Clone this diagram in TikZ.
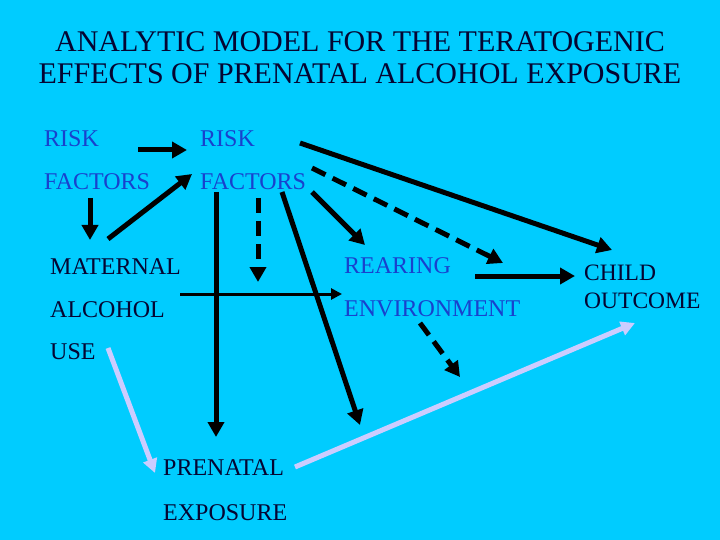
\documentclass[tikz,border=0pt]{standalone}
\usepackage{fontspec}
\setmainfont{Liberation Serif}
\usetikzlibrary{arrows.meta}
\definecolor{slidecyan}{RGB}{0,204,255}
\definecolor{factblue}{RGB}{25,65,205}
\definecolor{inkblack}{RGB}{5,5,50}
\definecolor{lavender1}{RGB}{204,204,255}
\tikzset{
  word/.style={anchor=base west, inner sep=0pt, text=inkblack, font=\fontsize{24}{28}\selectfont},
  blueword/.style={word, text=factblue},
  titleline/.style={anchor=base, inner sep=0pt, text=inkblack, font=\fontsize{30}{32}\selectfont},
  thickarrow/.style={line width=5pt, -{Triangle[length=15pt,width=16pt]}},
  dasharrow/.style={thickarrow, dash pattern=on 15pt off 8pt},
  thinarrow/.style={line width=3pt, -{Triangle[length=11pt,width=11pt]}},
  lightarrow/.style={draw=lavender1, line width=5pt, -{Triangle[length=14pt,width=14pt]}}
}
\begin{document}
\begin{tikzpicture}[x=1pt, y=-1pt]
  % Slide
  \fill[slidecyan] (0,0) rectangle (720,540);
  \node[titleline] (title1) at (360,52) {ANALYTIC MODEL FOR THE TERATOGENIC};
  \node[titleline] (title2) at (360,84) {EFFECTS OF PRENATAL ALCOHOL EXPOSURE};

  % Words
  \node[blueword] (risk1) at (44,147) {RISK};
  \node[blueword] (fac1) at (44,190) {FACTORS};
  \node[blueword] (risk2) at (200,147) {RISK};
  \node[blueword] (fac2) at (200,190) {FACTORS};
  \node[word] (mat) at (50,274) {MATERNAL};
  \node[word] (alc) at (50,317) {ALCOHOL};
  \node[word] (use) at (50,359) {USE};
  \node[blueword] (rear) at (344,273) {REARING};
  \node[blueword] (env) at (344,316) {ENVIRONMENT};
  \node[word, font=\fontsize{23.5}{26}\selectfont] (child) at (584,280) {CHILD};
  \node[word, font=\fontsize{23.5}{26}\selectfont] (outc) at (584,308) {OUTCOME};
  \node[word] (pren) at (163,475) {PRENATAL};
  \node[word] (expo) at (163,520) {EXPOSURE};

  % Arrows
  \draw[thickarrow] ([shift={(94,3)}]risk1.base west) -- ([shift={(-13,3)}]risk2.base west);
  \draw[thickarrow] ([shift={(46,8)}]fac1.base west) -- ([shift={(40,-34)}]mat.base west);
  \draw[thickarrow] ([shift={(58,-35)}]mat.base west) -- ([shift={(-8,-16)}]fac2.base west);
  \draw[thickarrow] ([shift={(16,2)}]fac2.base west) -- ([shift={(53,-38)}]pren.base west);
  \draw[dasharrow] ([shift={(58,8)}]fac2.base west) -- ++(0,84);
  \draw[thinarrow] ([shift={(130,-23)}]alc.base west) -- ([shift={(-2,-22)}]env.base west);
  \draw[thickarrow] ([shift={(82,2)}]fac2.base west) -- ([shift={(197,-50)}]pren.base west);
  \draw[thickarrow] ([shift={(112,2)}]fac2.base west) -- ([shift={(21,-28)}]rear.base west);
  \draw[dasharrow] ([shift={(112,-22)}]fac2.base west) -- ([shift={(159,-10)}]rear.base west);
  \draw[thickarrow] ([shift={(100,-4)}]risk2.base west) -- ([shift={(28,-30)}]child.base west);
  \draw[thickarrow] ([shift={(131,3)}]rear.base west) -- ([shift={(-9,-4)}]child.base west);
  \draw[dasharrow] ([shift={(76,7)}]env.base west) -- ++(40,54);
  \draw[lightarrow] ([shift={(58,-11)}]use.base west) -- ([shift={(-8,-2)}]pren.base west);
  \draw[lightarrow] ([shift={(132,-8)}]pren.base west) -- ([shift={(51,15)}]outc.base west);
\end{tikzpicture}
\end{document}
